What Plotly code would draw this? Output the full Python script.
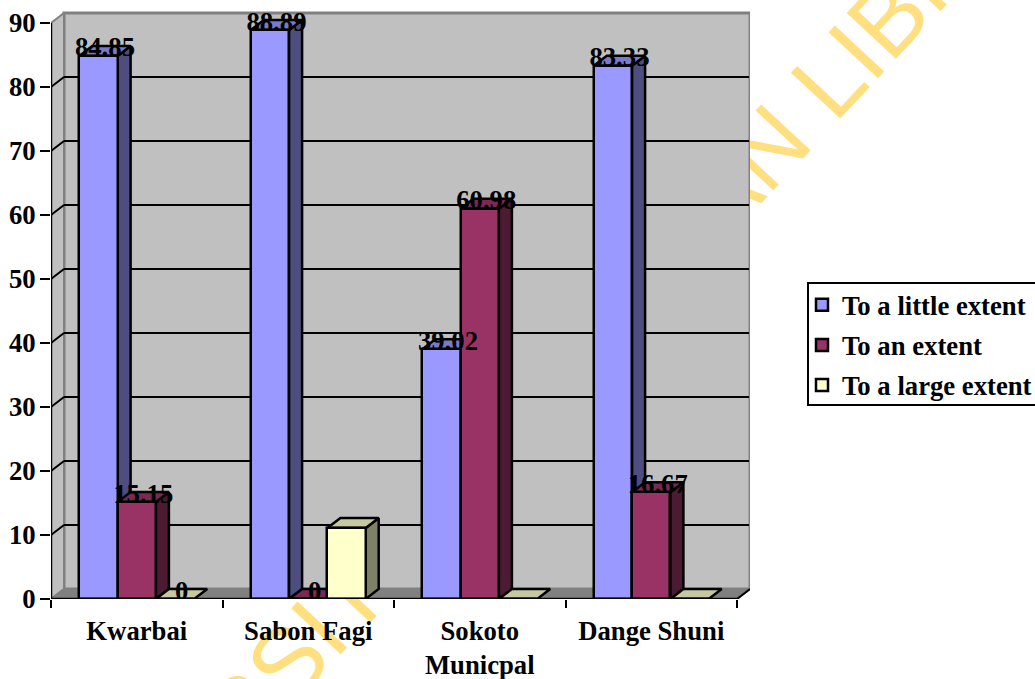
import plotly.graph_objects as go

# Survey results by local government area
categories = ["Kwarbai", "Sabon Fagi", "Sokoto<br>Municpal", "Dange Shuni"]
series_names = ["To a little extent", "To an extent", "To a large extent"]
little_extent = [84.85, 88.89, 39.02, 83.33]
an_extent = [15.15, 0, 60.98, 16.67]
large_extent = [0, 11.11, 0, 0]
little_labels = [True, True, True, True]
an_labels = [True, True, True, True]
large_labels = [True, False, False, False]
y_ticks = [0, 10, 20, 30, 40, 50, 60, 70, 80, 90]

front_colors = ["#9999FF", "#993366", "#FFFFCC"]
side_colors = ["#4D4D80", "#4D1A33", "#808066"]
top_colors = ["#7A7ACC", "#7A2952", "#C8C8A0"]

SERIF = "Liberation Serif"
FONT_SIZE = 26.7
W, H = 1035, 679
LEFT, RIGHT_EDGE, BOTTOM = 51, 750, 599
PX_PER_UNIT = 6.4

# Oblique depth of the 3-D box, in axis units
DEPTH_X = 0.0758
DEPTH_Y = 1.5625
BAR_W = 0.2233
EDGE = 2.5
n_cat = len(categories)
centers = [i + 0.5 for i in range(n_cat)]
x_max = n_cat + DEPTH_X
# The y axis runs to the top of the page so labels above the box stay whole
y_max = BOTTOM / PX_PER_UNIT


def polygons(polys):
    xs, ys = [], []
    for poly in polys:
        xs += [p[0] for p in poly] + [poly[0][0], None]
        ys += [p[1] for p in poly] + [poly[0][1], None]
    return xs, ys


def face(polys, fill, line_color, line_width, z):
    xs, ys = polygons(polys)
    return go.Scatter(
        x=xs, y=ys, mode="lines", fill="toself", fillcolor=fill,
        line=dict(color=line_color, width=line_width, shape="linear"),
        hoverinfo="skip", showlegend=False, zorder=z, cliponaxis=False,
    )


def segments(segs, color, width, z):
    xs, ys = [], []
    for (a, b) in segs:
        xs += [a[0], b[0], None]
        ys += [a[1], b[1], None]
    return go.Scatter(
        x=xs, y=ys, mode="lines", line=dict(color=color, width=width),
        hoverinfo="skip", showlegend=False, zorder=z, cliponaxis=False,
    )


fig = go.Figure()

# Walls and floor of the box
y_top = max(y_ticks)
fig.add_trace(face(
    [[(DEPTH_X, DEPTH_Y), (n_cat + DEPTH_X, DEPTH_Y),
      (n_cat + DEPTH_X, y_top + DEPTH_Y), (DEPTH_X, y_top + DEPTH_Y)]],
    "#C0C0C0", "#808080", 3, -5))
fig.add_trace(face(
    [[(0, 0), (DEPTH_X, DEPTH_Y), (DEPTH_X, y_top + DEPTH_Y), (0, y_top)]],
    "#C0C0C0", "#808080", 2, -5))
fig.add_trace(face(
    [[(0, 0), (n_cat, 0), (n_cat + DEPTH_X, DEPTH_Y), (DEPTH_X, DEPTH_Y)]],
    "#808080", "#808080", 2, -5))

# Gridlines on the back wall and their returns on the side wall
inner = [t for t in y_ticks if 0 < t < y_top]
fig.add_trace(segments(
    [((DEPTH_X, t + DEPTH_Y), (n_cat + DEPTH_X - 0.006, t + DEPTH_Y)) for t in inner],
    "#000000", 2, -4))
fig.add_trace(segments(
    [((0, t), (DEPTH_X, t + DEPTH_Y)) for t in inner],
    "#000000", 2, -4))

# Front edges of the box
fig.add_trace(segments([((0, 0), (0, y_top))], "#000000", 2.5, -3))
fig.add_trace(segments([((n_cat, 0), (n_cat + DEPTH_X, DEPTH_Y))], "#000000", 2, -3))
fig.add_trace(segments([((0, 0), (n_cat, 0))], "#000000", 2.5, 20))

# Columns, painted left to right so each front covers the previous side face
all_values = [little_extent, an_extent, large_extent]
all_flags = [little_labels, an_labels, large_labels]
for s, values in enumerate(all_values):
    offset = (s - 1.5) * BAR_W
    tops, sides = [], []
    for c, v in zip(centers, values):
        x0 = c + offset
        x1 = x0 + BAR_W
        tops.append([(x0, v), (x1, v), (x1 + DEPTH_X, v + DEPTH_Y), (x0 + DEPTH_X, v + DEPTH_Y)])
        if v > 0:
            sides.append([(x1, 0), (x1 + DEPTH_X, DEPTH_Y), (x1 + DEPTH_X, v + DEPTH_Y), (x1, v)])
    if sides:
        fig.add_trace(face(sides, side_colors[s], "#000000", EDGE, 2 * s))
    fig.add_trace(face(tops, top_colors[s], "#000000", EDGE, 2 * s))
    fig.add_trace(go.Bar(
        x=centers, y=values, width=BAR_W, offset=offset, name=series_names[s],
        legendgroup=series_names[s],
        marker=dict(color=front_colors[s], line=dict(color="#000000", width=EDGE)),
        hoverinfo="skip", cliponaxis=False, zorder=2 * s + 1,
    ))

# Value labels sit over the back edge of each column top
for s, (values, flags) in enumerate(zip(all_values, all_flags)):
    offset = (s - 1.0) * BAR_W
    fig.add_trace(go.Scatter(
        x=[c + offset + DEPTH_X / 2 for c in centers],
        y=[v + DEPTH_Y - 0.6 for v in values],
        text=[f"{v:g}" if f else "" for v, f in zip(values, flags)],
        mode="text", textposition="middle center",
        textfont=dict(family=SERIF, size=FONT_SIZE, color="#000000", weight="bold"),
        hoverinfo="skip", showlegend=False, cliponaxis=False, zorder=30,
    ))

plot_w = RIGHT_EDGE - LEFT
plot_h = BOTTOM


def paper_x(px):
    return (px - LEFT) / plot_w


def paper_y(py):
    return (BOTTOM - py) / plot_h


# Library stamp running diagonally behind the chart
STAMP_X, STAMP_Y = 547, 370
fig.add_shape(
    type="rect", xref="paper", yref="paper", layer="below",
    x0=paper_x(STAMP_X - 10), x1=paper_x(STAMP_X + 10),
    y0=paper_y(STAMP_Y + 10), y1=paper_y(STAMP_Y - 10),
    line=dict(width=0), fillcolor="rgba(0,0,0,0)",
    label=dict(
        text="UNIVERSITY OF IBADAN LIBRARY", textangle=-47,
        textposition="middle center",
        font=dict(family="Liberation Sans", size=98, color="#FFDF80", weight="normal"),
    ),
)

# Frame around the legend, open past the right edge of the page
fig.add_shape(
    type="rect", xref="paper", yref="paper", layer="below",
    x0=paper_x(808), x1=paper_x(W + 20), y0=paper_y(405), y1=paper_y(283),
    line=dict(color="#000000", width=2), fillcolor="#FFFFFF",
)

fig.update_layout(
    width=W, height=H,
    margin=dict(l=LEFT, r=W - RIGHT_EDGE, t=0, b=H - BOTTOM, autoexpand=False, pad=0),
    paper_bgcolor="#FFFFFF", plot_bgcolor="rgba(0,0,0,0)",
    barmode="overlay", bargap=0,
    font=dict(family=SERIF, size=FONT_SIZE, color="#000000", weight="bold"),
    legend=dict(
        x=paper_x(809), y=paper_y(281), xanchor="left", yanchor="top",
        bgcolor="rgba(0,0,0,0)", borderwidth=0,
        tracegroupgap=2.4, indentation=-7,
        font=dict(family=SERIF, size=FONT_SIZE, color="#000000", weight="bold"),
    ),
    xaxis=dict(
        range=[0, x_max], showgrid=False, zeroline=False, showline=False,
        tickmode="array", tickvals=centers, ticktext=categories, ticks="",
        ticklabelstandoff=13,
        minor=dict(
            tickmode="array", tickvals=list(range(n_cat + 1)),
            ticks="outside", ticklen=8, tickwidth=2, tickcolor="#000000",
            showgrid=False,
        ),
        tickfont=dict(family=SERIF, size=FONT_SIZE, color="#000000", weight="bold"),
    ),
    yaxis=dict(
        range=[0, y_max], showgrid=False, zeroline=False, showline=False,
        tickmode="array", tickvals=y_ticks, ticks="outside", ticklen=10,
        tickwidth=2, tickcolor="#000000", ticklabelstandoff=-1,
        tickfont=dict(family=SERIF, size=FONT_SIZE, color="#000000", weight="bold"),
    ),
)

fig.write_html("out.html")
